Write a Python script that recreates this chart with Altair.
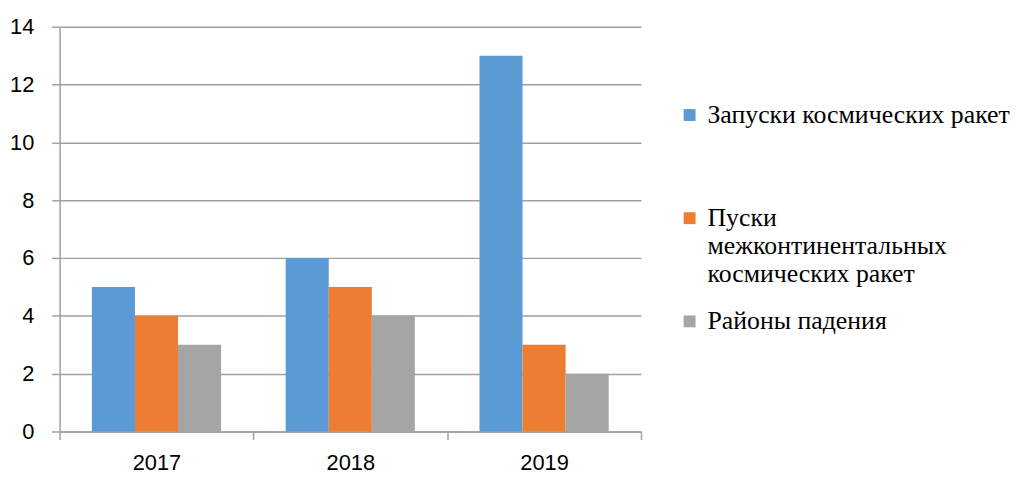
import altair as alt
import pandas as pd

years = ["2017", "2018", "2019"]
series = [
    "Запуски космических ракет",
    "Пуски межконтинентальных космических ракет",
    "Районы падения",
]
launches = [5, 6, 13]
icbm = [4, 5, 3]
zones = [3, 4, 2]
colors = ["#5B9BD5", "#ED7D31", "#A5A5A5"]
y_ticks = [0, 2, 4, 6, 8, 10, 12, 14]
# legend label lines as drawn in the reference (second entry wraps)
legend_lines = [
    ["Запуски космических ракет", " ", " "],
    ["Пуски", "межконтинентальных", "космических ракет"],
    ["Районы падения"],
]

rows = []
for i, yr in enumerate(years):
    for s, vals in zip(series, [launches, icbm, zones]):
        rows.append({"year": yr, "series": s, "value": vals[i]})
df = pd.DataFrame(rows)


def js_arr(lines):
    return "[" + ", ".join("'" + ln + "'" for ln in lines) + "]"


label_expr = ""
for name, lines in zip(series[:-1], legend_lines[:-1]):
    label_expr += f"datum.label == '{name}' ? {js_arr(lines)} : "
label_expr += js_arr(legend_lines[-1])

grid_color = "#A0A0A0"
serif = "Liberation Serif"
sans = "Liberation Sans"

chart = alt.Chart(df).mark_bar().encode(
    x=alt.X(
        "year:N",
        sort=years,
        scale=alt.Scale(paddingInner=0, paddingOuter=0),
        axis=alt.Axis(
            title=None, labelAngle=0, tickBand="extent", grid=False,
            domainColor=grid_color, tickColor=grid_color, tickSize=8,
            domainWidth=1.5, tickWidth=1.5,
            labelFont=sans, labelFontSize=22, labelColor="#000000",
            labelPadding=13,
        ),
    ),
    xOffset=alt.XOffset(
        "series:N", sort=series,
        scale=alt.Scale(paddingInner=0, paddingOuter=0.75),
    ),
    y=alt.Y(
        "value:Q",
        scale=alt.Scale(domain=[0, 14], nice=False),
        axis=alt.Axis(
            title=None, values=y_ticks, grid=True, gridColor=grid_color,
            gridWidth=1.5, domainColor=grid_color, domainWidth=1.5,
            tickColor=grid_color, tickWidth=1.5, tickSize=8,
            labelFont=sans, labelFontSize=22, labelColor="#000000",
            labelPadding=18,
        ),
    ),
    color=alt.Color(
        "series:N",
        sort=series,
        scale=alt.Scale(domain=series, range=colors),
        legend=alt.Legend(
            title=None, orient="none", legendX=622, legendY=76,
            symbolType="square", symbolSize=144, symbolStrokeWidth=0,
            labelFont=serif, labelFontSize=26, labelColor="#000000",
            labelLimit=500, labelOffset=5, rowPadding=22, padding=0,
            labelExpr=label_expr, labelBaseline="middle",
        ),
    ),
).properties(
    width=586,
    height=408,
    padding={"left": 52, "top": 17, "right": 378, "bottom": 44},
    autosize=alt.AutoSizeParams(type="none"),
).configure(
    font=serif
).configure_legend(
    labelFont=serif
).configure_view(stroke=None)

chart.save("out.html", embed_options={"renderer": "svg", "actions": False})
